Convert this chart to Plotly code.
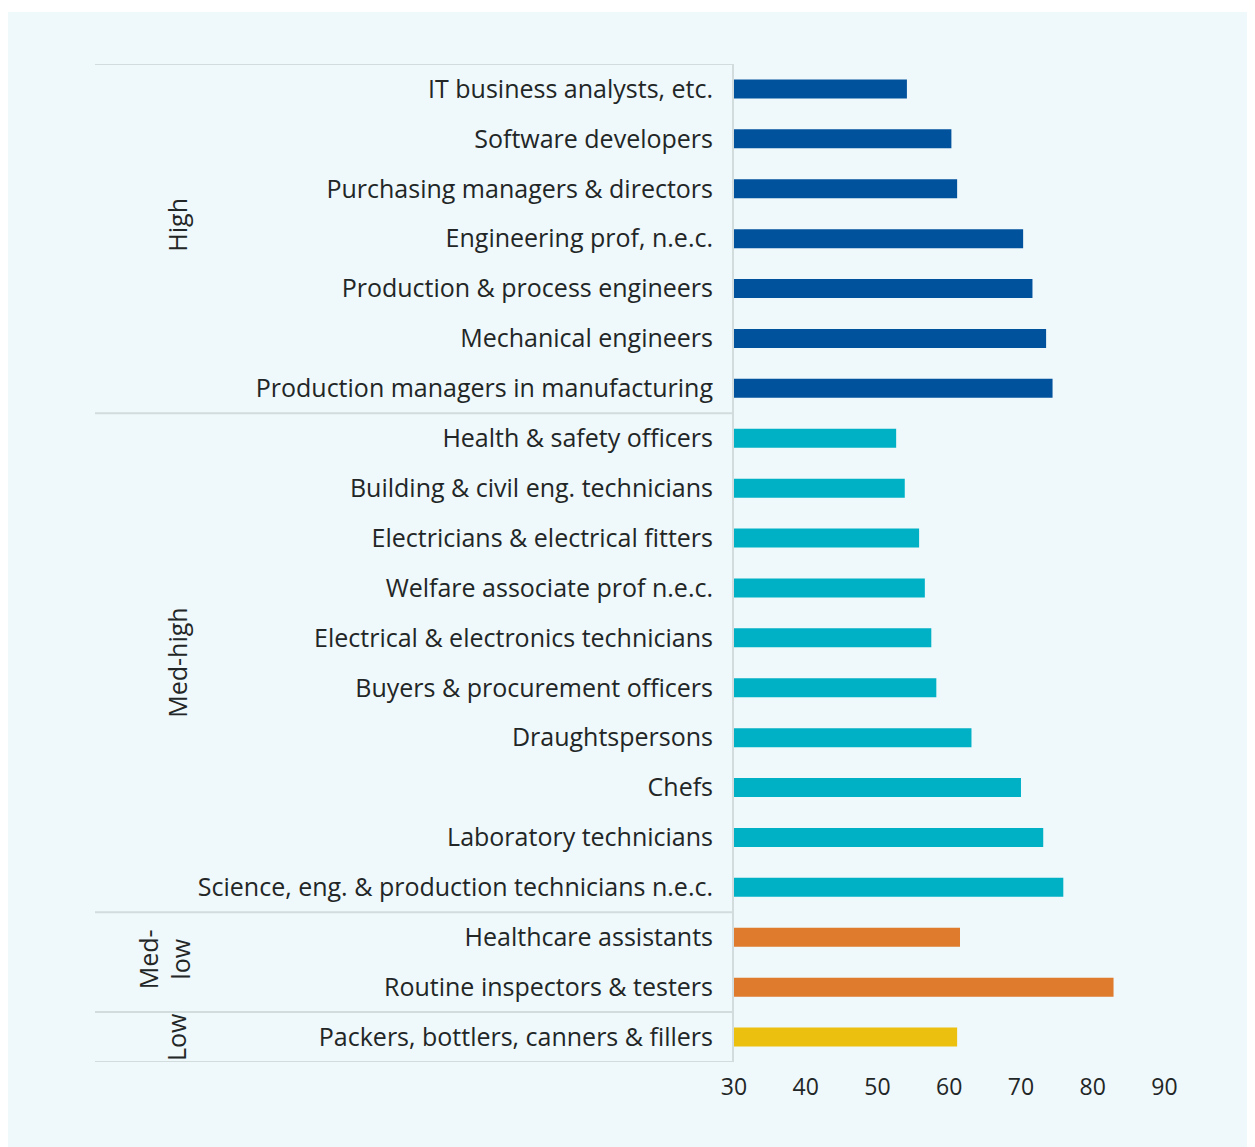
import plotly.graph_objects as go

occupations = [
    "IT business analysts, etc.",
    "Software developers",
    "Purchasing managers & directors",
    "Engineering prof, n.e.c.",
    "Production & process engineers",
    "Mechanical engineers",
    "Production managers in manufacturing",
    "Health & safety officers",
    "Building & civil eng. technicians",
    "Electricians & electrical fitters",
    "Welfare associate prof n.e.c.",
    "Electrical & electronics technicians",
    "Buyers & procurement officers",
    "Draughtspersons",
    "Chefs",
    "Laboratory technicians",
    "Science, eng. & production technicians n.e.c.",
    "Healthcare assistants",
    "Routine inspectors & testers",
    "Packers, bottlers, canners & fillers",
]
values = [54.1, 60.3, 61.1, 70.3, 71.6, 73.5, 74.4,
          52.6, 53.8, 55.8, 56.6, 57.5, 58.2, 63.1, 70.0, 73.1, 75.9,
          61.5, 82.9,
          61.1]
skill_level = ["High"] * 7 + ["Med-high"] * 10 + ["Med-low"] * 2 + ["Low"]

group_names = ["High", "Med-high", "Med-low", "Low"]
group_labels = ["High", "Med-high", "Med-<br>low", "Low"]
group_colors = {"High": "#00529C", "Med-high": "#00B1C6",
                "Med-low": "#DE7B2C", "Low": "#ECC00E"}

x_ticks = [30, 40, 50, 60, 70, 80, 90]

# page is offset by the 8px body margin
OFF = 8
W, H = 1255, 1147
L, R, T, B = 734, 1186, 64, 1062
PW = R - L

def xp(px):
    return (px - L) / PW

def yp(py):
    return (B - py) / (B - T)

fig = go.Figure()
for g in group_names:
    ys = [o for o, s in zip(occupations, skill_level) if s == g]
    xs = [v for v, s in zip(values, skill_level) if s == g]
    fig.add_trace(go.Bar(x=xs, y=ys, orientation="h", width=0.38,
                         marker=dict(color=group_colors[g], line=dict(width=0)),
                         name=g, showlegend=False))

line_col = "#D3DCDD"
text_col = "#222626"

# background panel
fig.add_shape(type="rect", xref="paper", yref="paper", layer="below",
              x0=xp(0), x1=xp(1251), y0=yp(1150), y1=yp(12),
              fillcolor="#EFF8FA", line=dict(width=0))

# group boundaries
bounds = [-0.5]
for i in range(1, len(skill_level)):
    if skill_level[i] != skill_level[i - 1]:
        bounds.append(i - 0.5)
bounds.append(len(skill_level) - 0.5)
for b in bounds:
    fig.add_shape(type="line", xref="paper", yref="y", x0=xp(95), x1=0,
                  y0=b, y1=b, line=dict(color=line_col, width=2))

# group labels
label_x = {"High": 177, "Med-high": 177, "Med-low": 164, "Low": 176}
label_shift = {"High": 14, "Med-high": 0, "Med-low": 3, "Low": 0}
for g, lab in zip(group_names, group_labels):
    idx = [i for i, s in enumerate(skill_level) if s == g]
    yc = (idx[0] + idx[-1]) / 2
    fig.add_annotation(x=xp(label_x[g]), xref="paper", y=yc, yref="y",
                       text=lab, textangle=-90, showarrow=False,
                       xanchor="center", yanchor="middle",
                       yshift=label_shift[g],
                       font=dict(size=25, color=text_col))

fig.update_layout(
    width=W - OFF, height=H - OFF,
    margin=dict(l=L - OFF, r=W - R, t=T - OFF, b=H - B),
    paper_bgcolor="white",
    plot_bgcolor="rgba(0,0,0,0)",
    font=dict(family="Open Sans, sans-serif", size=25, color=text_col),
    bargap=0.62,
)
fig.update_xaxes(range=[30, 93], tickvals=x_ticks, showgrid=False,
                 zeroline=False, showline=False, ticks="",
                 ticklabelstandoff=9, tickfont=dict(size=23))
fig.update_yaxes(categoryorder="array", categoryarray=occupations,
                 range=[len(occupations) - 0.5, -0.5], showgrid=False,
                 zeroline=False, showline=True, linecolor=line_col,
                 linewidth=2, ticks="", ticklabelstandoff=14,
                 tickfont=dict(size=25))

fig.write_html("out.html")
